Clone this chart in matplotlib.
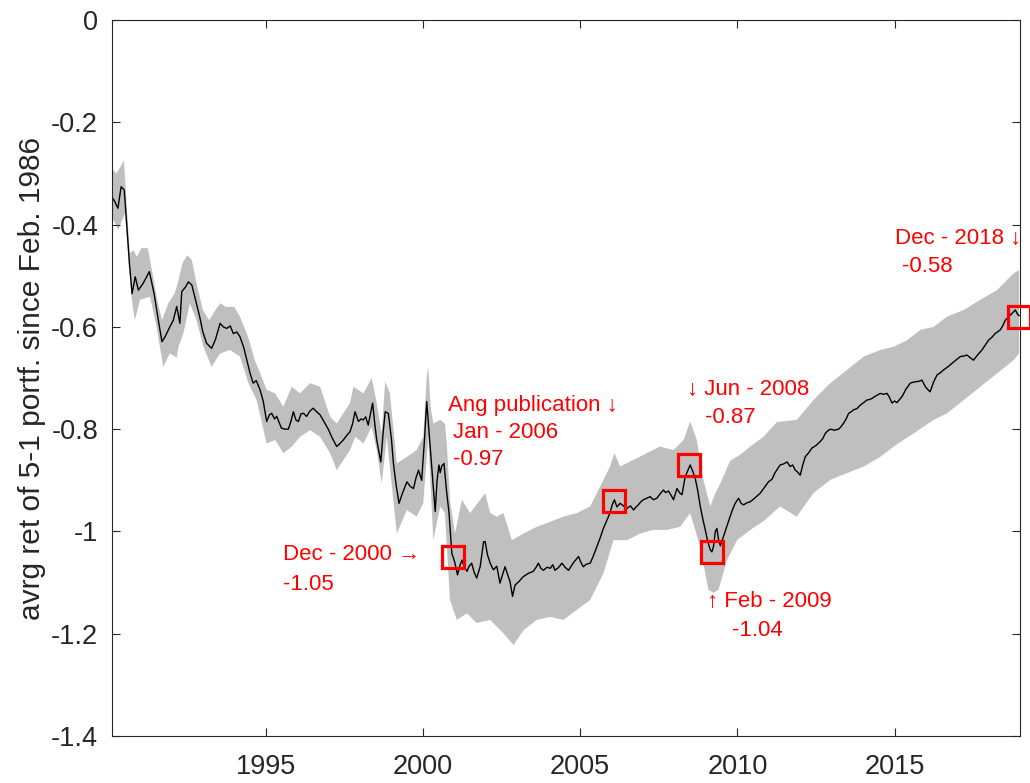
import numpy as np
import matplotlib
matplotlib.use('Agg')
import matplotlib.pyplot as plt

# average return of the 5-1 portfolio (decimal years)
t = [1990.10, 1990.20, 1990.30, 1990.40, 1990.50, 1990.58, 1990.67, 1990.75, 1990.85, 1990.95,
     1991.10, 1991.30, 1991.45, 1991.58, 1991.70, 1991.80, 1991.95, 1992.06, 1992.17, 1992.27,
     1992.33, 1992.45, 1992.54, 1992.65, 1992.78, 1992.90, 1993.00, 1993.12, 1993.28, 1993.40,
     1993.55, 1993.65, 1993.76, 1993.87, 1993.97, 1994.08, 1994.18, 1994.30, 1994.40, 1994.50,
     1994.60, 1994.70, 1994.82, 1994.92, 1995.03, 1995.12, 1995.19, 1995.28, 1995.35, 1995.50,
     1995.62, 1995.72, 1995.80, 1995.88, 1995.96, 1996.04, 1996.12, 1996.20, 1996.30, 1996.40,
     1996.51, 1996.62, 1996.73, 1996.85, 1996.99, 1997.12, 1997.26, 1997.36, 1997.47, 1997.58,
     1997.68, 1997.76, 1997.84, 1997.95, 1998.03, 1998.10, 1998.18, 1998.26, 1998.40, 1998.47,
     1998.53, 1998.66, 1998.73, 1998.80, 1998.90, 1999.00, 1999.06, 1999.15, 1999.24, 1999.35,
     1999.49, 1999.60, 1999.70, 1999.78, 1999.86, 1999.96, 2000.05, 2000.12, 2000.20, 2000.28,
     2000.39, 2000.45, 2000.51, 2000.55, 2000.60, 2000.67, 2000.75, 2000.83, 2000.92, 2000.97,
     2001.02, 2001.10, 2001.17, 2001.24, 2001.32, 2001.40, 2001.47, 2001.55, 2001.63, 2001.71,
     2001.82, 2001.93, 2001.98, 2002.05, 2002.14, 2002.24, 2002.35, 2002.45, 2002.53, 2002.61,
     2002.70, 2002.77, 2002.85, 2002.93, 2003.05, 2003.20, 2003.35, 2003.51, 2003.60, 2003.67,
     2003.75, 2003.83, 2003.95, 2004.05, 2004.13, 2004.20, 2004.32, 2004.42, 2004.52, 2004.63,
     2004.80, 2004.95, 2005.02, 2005.10, 2005.20, 2005.32, 2005.42, 2005.53, 2005.64, 2005.74,
     2005.85, 2005.95, 2006.02, 2006.09, 2006.17, 2006.27, 2006.38, 2006.49, 2006.60, 2006.70,
     2006.78, 2006.85, 2006.93, 2007.01, 2007.12, 2007.23, 2007.33, 2007.44, 2007.55, 2007.65,
     2007.72, 2007.81, 2007.90, 2007.97, 2008.08, 2008.17, 2008.24, 2008.34, 2008.43, 2008.50,
     2008.58, 2008.66, 2008.74, 2008.82, 2008.90, 2008.98, 2009.06, 2009.14, 2009.19, 2009.24,
     2009.30, 2009.35, 2009.40, 2009.46, 2009.53, 2009.61, 2009.72, 2009.83, 2009.93, 2010.04,
     2010.12, 2010.20, 2010.30, 2010.41, 2010.55, 2010.73, 2010.85, 2010.99, 2011.10, 2011.20,
     2011.36, 2011.47, 2011.58, 2011.68, 2011.76, 2011.84, 2011.92, 2012.00, 2012.08, 2012.16,
     2012.27, 2012.37, 2012.50, 2012.64, 2012.72, 2012.80, 2012.88, 2012.96, 2013.08, 2013.22,
     2013.30, 2013.38, 2013.46, 2013.54, 2013.62, 2013.70, 2013.80, 2013.91, 2014.02, 2014.12,
     2014.20, 2014.28, 2014.40, 2014.55, 2014.65, 2014.76, 2014.84, 2014.92, 2015.00, 2015.08,
     2015.16, 2015.24, 2015.36, 2015.50, 2015.60, 2015.71, 2015.80, 2015.87, 2015.92, 2015.98,
     2016.05, 2016.13, 2016.24, 2016.35, 2016.45, 2016.56, 2016.70, 2016.83, 2016.95, 2017.09,
     2017.20, 2017.30, 2017.40, 2017.51, 2017.64, 2017.78, 2017.88, 2017.99, 2018.10, 2018.20,
     2018.36, 2018.44, 2018.52, 2018.60, 2018.68, 2018.76, 2018.84, 2018.92, 2018.96]
avg_ret = [-0.345, -0.355, -0.368, -0.326, -0.332, -0.400, -0.480, -0.535, -0.502, -0.528,
           -0.515, -0.492, -0.535, -0.585, -0.629, -0.619, -0.600, -0.587, -0.560, -0.593,
           -0.531, -0.522, -0.512, -0.518, -0.550, -0.580, -0.610, -0.632, -0.642, -0.625,
           -0.593, -0.600, -0.603, -0.598, -0.613, -0.610, -0.619, -0.640, -0.665, -0.690,
           -0.710, -0.705, -0.723, -0.745, -0.785, -0.772, -0.769, -0.780, -0.775, -0.798,
           -0.800, -0.800, -0.785, -0.766, -0.782, -0.785, -0.770, -0.769, -0.775, -0.765,
           -0.759, -0.766, -0.772, -0.785, -0.800, -0.818, -0.834, -0.828, -0.821, -0.812,
           -0.805, -0.790, -0.766, -0.785, -0.780, -0.782, -0.776, -0.792, -0.749, -0.790,
           -0.821, -0.864, -0.810, -0.766, -0.769, -0.820, -0.866, -0.910, -0.945, -0.925,
           -0.903, -0.912, -0.916, -0.895, -0.880, -0.900, -0.820, -0.746, -0.810, -0.873,
           -0.961, -0.900, -0.870, -0.885, -0.872, -0.867, -0.920, -0.964, -1.043, -1.052,
           -1.062, -1.085, -1.068, -1.056, -1.070, -1.078, -1.068, -1.062, -1.080, -1.091,
           -1.069, -1.020, -1.020, -1.045, -1.062, -1.075, -1.068, -1.101, -1.085, -1.069,
           -1.085, -1.098, -1.127, -1.105, -1.098, -1.088, -1.082, -1.078, -1.070, -1.062,
           -1.072, -1.076, -1.070, -1.072, -1.065, -1.076, -1.070, -1.062, -1.070, -1.076,
           -1.060, -1.049, -1.060, -1.069, -1.064, -1.062, -1.048, -1.030, -1.012, -0.994,
           -0.978, -0.964, -0.948, -0.938, -0.952, -0.945, -0.950, -0.955, -0.950, -0.958,
           -0.952, -0.948, -0.942, -0.938, -0.935, -0.932, -0.938, -0.935, -0.926, -0.919,
           -0.924, -0.921, -0.930, -0.938, -0.916, -0.925, -0.928, -0.893, -0.880, -0.870,
           -0.882, -0.896, -0.920, -0.951, -0.975, -0.997, -1.020, -1.036, -1.040, -1.030,
           -1.000, -0.994, -1.015, -1.028, -1.015, -1.000, -0.980, -0.960, -0.945, -0.935,
           -0.945, -0.948, -0.944, -0.942, -0.935, -0.925, -0.915, -0.903, -0.898, -0.885,
           -0.870, -0.868, -0.864, -0.873, -0.870, -0.880, -0.884, -0.890, -0.870, -0.854,
           -0.846, -0.837, -0.832, -0.824, -0.818, -0.808, -0.803, -0.800, -0.802, -0.800,
           -0.795, -0.788, -0.780, -0.769, -0.766, -0.762, -0.760, -0.753, -0.748, -0.743,
           -0.742, -0.740, -0.735, -0.730, -0.732, -0.730, -0.738, -0.749, -0.745, -0.748,
           -0.742, -0.736, -0.722, -0.710, -0.708, -0.707, -0.706, -0.704, -0.710, -0.717,
           -0.722, -0.727, -0.708, -0.694, -0.690, -0.684, -0.678, -0.671, -0.665, -0.658,
           -0.657, -0.655, -0.660, -0.665, -0.655, -0.645, -0.636, -0.626, -0.620, -0.613,
           -0.606, -0.598, -0.587, -0.582, -0.577, -0.572, -0.567, -0.576, -0.578]

# confidence band edges
upper_t = [1990.10, 1990.25, 1990.40, 1990.49, 1990.58, 1990.68, 1990.80, 1990.90, 1991.05, 1991.25,
           1991.40, 1991.55, 1991.70, 1991.90, 1992.10, 1992.20, 1992.35, 1992.50, 1992.65, 1992.80,
           1993.00, 1993.20, 1993.40, 1993.55, 1993.75, 1994.00, 1994.18, 1994.40, 1994.50, 1994.65,
           1994.82, 1995.03, 1995.30, 1995.56, 1995.83, 1996.09, 1996.41, 1996.73, 1997.05, 1997.26,
           1997.68, 1997.79, 1998.11, 1998.37, 1998.53, 1998.69, 1998.80, 1998.95, 1999.17, 1999.49,
           1999.80, 2000.01, 2000.12, 2000.17, 2000.25, 2000.33, 2000.55, 2000.70, 2000.76, 2000.86,
           2001.02, 2001.24, 2001.50, 2001.82, 2001.98, 2002.14, 2002.35, 2002.56, 2002.83, 2003.20,
           2003.62, 2004.05, 2004.47, 2004.90, 2005.32, 2005.64, 2005.95, 2006.09, 2006.27, 2006.70,
           2007.12, 2007.54, 2007.97, 2008.29, 2008.50, 2008.71, 2008.92, 2009.14, 2009.30, 2009.46,
           2009.77, 2010.09, 2010.41, 2010.83, 2011.26, 2011.89, 2012.42, 2012.96, 2013.49, 2014.02,
           2014.55, 2014.97, 2015.40, 2015.82, 2016.24, 2016.67, 2017.20, 2017.73, 2018.26, 2018.79,
           2018.96]
upper_v = [-0.290, -0.300, -0.285, -0.274, -0.365, -0.456, -0.450, -0.463, -0.446, -0.446,
           -0.495, -0.547, -0.587, -0.554, -0.535, -0.515, -0.476, -0.460, -0.469, -0.515,
           -0.567, -0.587, -0.567, -0.554, -0.561, -0.561, -0.580, -0.613, -0.632, -0.665,
           -0.690, -0.723, -0.730, -0.756, -0.717, -0.730, -0.710, -0.717, -0.776, -0.789,
           -0.749, -0.717, -0.730, -0.700, -0.749, -0.808, -0.707, -0.730, -0.867, -0.854,
           -0.841, -0.815, -0.700, -0.678, -0.760, -0.789, -0.782, -0.789, -0.828, -0.938,
           -1.004, -0.938, -0.964, -0.938, -0.925, -0.964, -0.971, -0.964, -1.017, -1.004,
           -0.991, -0.981, -0.971, -0.964, -0.951, -0.912, -0.873, -0.847, -0.873, -0.860,
           -0.847, -0.834, -0.841, -0.821, -0.785, -0.821, -0.899, -0.951, -0.925, -0.906,
           -0.862, -0.850, -0.834, -0.815, -0.786, -0.782, -0.743, -0.710, -0.684, -0.658,
           -0.645, -0.639, -0.626, -0.606, -0.600, -0.580, -0.567, -0.547, -0.528, -0.495,
           -0.489]
lower_t = [1990.10, 1990.31, 1990.52, 1990.74, 1990.84, 1991.00, 1991.32, 1991.53, 1991.74, 1991.95,
           1992.17, 1992.22, 1992.38, 1992.59, 1992.80, 1993.02, 1993.28, 1993.55, 1993.86, 1994.18,
           1994.45, 1994.71, 1995.03, 1995.30, 1995.56, 1995.83, 1996.09, 1996.41, 1996.73, 1997.05,
           1997.26, 1997.68, 1997.85, 1998.11, 1998.37, 1998.53, 1998.69, 1998.85, 1998.98, 1999.17,
           1999.49, 1999.80, 2000.01, 2000.17, 2000.33, 2000.55, 2000.70, 2000.86, 2001.08, 2001.40,
           2001.71, 2002.14, 2002.56, 2002.88, 2003.20, 2003.62, 2004.05, 2004.47, 2004.90, 2005.32,
           2005.74, 2006.06, 2006.49, 2006.91, 2007.33, 2007.76, 2008.18, 2008.50, 2008.82, 2009.08,
           2009.24, 2009.40, 2009.67, 2009.99, 2010.41, 2010.83, 2011.36, 2011.89, 2012.42, 2012.96,
           2013.49, 2014.02, 2014.55, 2014.97, 2015.61, 2016.24, 2016.67, 2017.20, 2017.73, 2018.26,
           2018.79, 2018.96]
lower_v = [-0.385, -0.410, -0.378, -0.547, -0.587, -0.547, -0.541, -0.600, -0.678, -0.652,
           -0.660, -0.640, -0.613, -0.554, -0.587, -0.639, -0.678, -0.652, -0.645, -0.658,
           -0.710, -0.743, -0.828, -0.821, -0.847, -0.834, -0.815, -0.802, -0.815, -0.847,
           -0.880, -0.841, -0.815, -0.828, -0.795, -0.841, -0.906, -0.815, -0.893, -1.004,
           -0.958, -0.971, -0.945, -0.815, -1.017, -0.951, -0.964, -1.134, -1.173, -1.160,
           -1.179, -1.173, -1.199, -1.222, -1.193, -1.173, -1.167, -1.173, -1.153, -1.134,
           -1.082, -1.017, -1.017, -1.004, -0.997, -0.997, -0.991, -0.964, -1.030, -1.114,
           -1.120, -1.114, -1.056, -1.017, -0.997, -0.980, -0.951, -0.971, -0.925, -0.899,
           -0.886, -0.873, -0.854, -0.834, -0.808, -0.782, -0.769, -0.743, -0.717, -0.691,
           -0.665, -0.652]

# highlighted months
event_t = [2000.96, 2006.09, 2008.46, 2009.19, 2018.96]
event_v = [-1.05, -0.94, -0.87, -1.04, -0.58]

yticks = [-1.4, -1.2, -1.0, -0.8, -0.6, -0.4, -0.2, 0.0]
ytick_labels = ['-1.4', '-1.2', '-1', '-0.8', '-0.6', '-0.4', '-0.2', '0']
xticks = [1995, 2000, 2005, 2010, 2015]

axis_color = '#262626'
fonts = ['Liberation Sans', 'DejaVu Sans']
plt.rcParams['font.family'] = fonts

fig = plt.figure(figsize=(10.30, 7.83), dpi=100)
ax = fig.add_axes([0.1087, 0.060, 0.8816, 0.9144])

band_x = upper_t + lower_t[::-1]
band_y = upper_v + lower_v[::-1]
ax.fill(band_x, band_y, color='#bfbfbf', lw=0)
ax.plot(t, avg_ret, color='black', lw=1.0)
ax.plot(event_t, event_v, 's', ms=16, mfc='none', mec='red', mew=2.3, clip_on=False, zorder=5)

# annotations
red = dict(color='red', fontsize=16, ha='left', va='center')
ax.text(1995.55, -1.046, 'Dec - 2000 \u2192', **red)
ax.text(1995.55, -1.103, '-1.05', **red)
ax.text(2000.80, -0.753, 'Ang publication \u2193', **red)
ax.text(2000.96, -0.807, 'Jan - 2006', **red)
ax.text(2000.96, -0.860, '-0.97', **red)
ax.text(2008.39, -0.723, '\u2193 Jun - 2008', **red)
ax.text(2008.97, -0.778, '-0.87', **red)
ax.text(2009.03, -1.137, '\u2191 Feb - 2009', **red)
ax.text(2009.83, -1.193, '-1.04', **red)
ax.text(2015.02, -0.427, 'Dec - 2018 \u2193', **red)
ax.text(2015.24, -0.482, '-0.58', **red)

ax.set_xlim(1990.11, 2018.99)
ax.set_ylim(-1.4, 0)
ax.set_xticks(xticks)
ax.set_xticklabels([str(x) for x in xticks])
ax.set_yticks(yticks)
ax.set_yticklabels(ytick_labels)
ax.tick_params(direction='in', top=True, right=True, length=6, width=0.8,
               color=axis_color, labelcolor=axis_color, labelsize=19.5)
ax.tick_params(axis='x', pad=13)
ax.tick_params(axis='y', pad=10)
for s in ax.spines.values():
    s.set_color(axis_color)
    s.set_linewidth(0.8)

ax.set_ylabel('avrg ret of 5-1 portf. since Feb. 1986', fontsize=21.5, color=axis_color)
ax.yaxis.set_label_coords(-0.073, 0.5)

fig.savefig('out.png', dpi=100)
